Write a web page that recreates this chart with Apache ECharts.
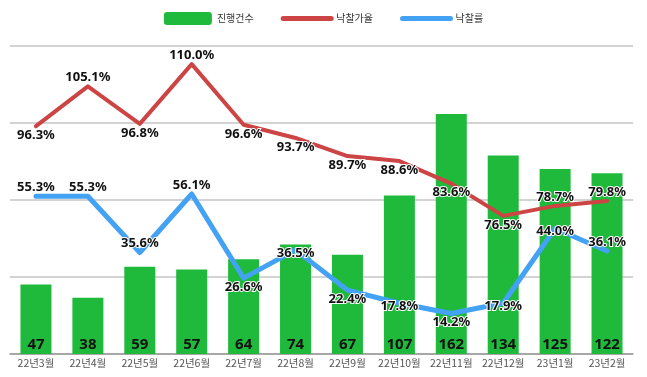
<!DOCTYPE html>
<html>
<head>
<meta charset="utf-8">
<script src="https://cdn.jsdelivr.net/npm/echarts@6/dist/echarts.min.js"></script>
<style>
  html, body { margin: 0; padding: 0; background: #fff; }
  #chart { width: 647px; height: 377px; }
</style>
</head>
<body>
<div id="chart"></div>
<script>
// 월별 데이터
const months = ['22년3월', '22년4월', '22년5월', '22년6월', '22년7월', '22년8월',
  '22년9월', '22년10월', '22년11월', '22년12월', '23년1월', '23년2월']
const counts = [47, 38, 59, 57, 64, 74, 67, 107, 162, 134, 125, 122]      // 진행건수
const bidPriceRate = [96.3, 105.1, 96.8, 110.0, 96.6, 93.7, 89.7, 88.6, 83.6, 76.5, 78.7, 79.8]  // 낙찰가율
const bidRate = [55.3, 55.3, 35.6, 56.1, 26.6, 36.5, 22.4, 17.8, 14.2, 17.9, 44.0, 36.1]        // 낙찰률

// 라벨 위치 (원본 차트 그대로)
const redLabelPos = ['bottom', 'top', 'bottom', 'top', 'bottom', 'bottom', 'bottom', 'bottom', 'bottom', 'bottom', 'top', 'top']
const blueLabelPos = ['top', 'top', 'top', 'top', 'bottom', 'inside', 'bottom', 'inside', 'bottom', 'inside', 'inside', 'top']

const GREEN = '#1fba3c'
const RED = '#cc4444'
const BLUE = '#44a2f4'

const valueLabel = {
  show: true,
  color: '#111',
  fontSize: 13,
  fontWeight: 'bold',
  fontFamily: 'Noto Sans, sans-serif',
  textBorderColor: '#fff',
  textBorderWidth: 2,
  distance: 2,
  formatter: (p) => p.value.toFixed(1) + '%'
}

const withPos = (values, positions) => values.map((v, i) => ({
  value: v,
  label: { position: positions[i], offset: positions[i] === 'inside' ? [0, 3] : [0, 0] }
}))

const chart = echarts.init(document.getElementById('chart'))
chart.setOption({
  animation: false,
  textStyle: { fontFamily: 'Noto Sans CJK KR, sans-serif' },
  legend: {
    top: 7,
    left: 'center',
    itemWidth: 48,
    itemHeight: 13,
    itemGap: 27,
    textStyle: { fontSize: 10, color: '#333' },
    data: [
      { name: '진행건수' },
      { name: '낙찰가율', itemStyle: { opacity: 0 }, lineStyle: { width: 5, cap: 'round' } },
      { name: '낙찰률', itemStyle: { opacity: 0 }, lineStyle: { width: 5, cap: 'round' } }
    ]
  },
  grid: { left: 10, right: 14, top: 46, bottom: 23 },
  xAxis: {
    type: 'category',
    data: months,
    axisTick: { show: false },
    axisLine: { lineStyle: { color: '#999', width: 1.5 } },
    axisLabel: { color: '#555', fontSize: 10.5, margin: 4, interval: 0 }
  },
  yAxis: [
    {
      type: 'value', min: 0, max: 208, interval: 52,
      axisLabel: { show: false },
      axisLine: { show: false },
      axisTick: { show: false },
      splitLine: { lineStyle: { color: '#c4c4c4', width: 1.5 } }
    },
    { type: 'value', min: 46, max: 114, show: false, splitLine: { show: false } },
    { type: 'value', min: 0, max: 108, show: false, splitLine: { show: false } }
  ],
  series: [
    {
      name: '진행건수',
      type: 'bar',
      data: counts,
      barWidth: 31,
      itemStyle: { color: GREEN },
      label: {
        show: true,
        position: 'insideBottom',
        distance: 2,
        color: '#111',
        fontSize: 15,
        fontWeight: 'bold',
        fontFamily: 'Noto Sans, sans-serif'
      }
    },
    {
      name: '낙찰가율',
      type: 'line',
      yAxisIndex: 1,
      data: withPos(bidPriceRate, redLabelPos),
      symbol: 'circle',
      symbolSize: 1,
      showSymbol: true,
      itemStyle: { color: RED },
      lineStyle: { color: RED, width: 4, cap: 'round', join: 'round' },
      label: valueLabel,
      z: 3
    },
    {
      name: '낙찰률',
      type: 'line',
      yAxisIndex: 2,
      data: withPos(bidRate, blueLabelPos),
      symbol: 'circle',
      symbolSize: 1,
      showSymbol: true,
      itemStyle: { color: BLUE },
      lineStyle: { color: BLUE, width: 5, cap: 'round', join: 'round' },
      label: valueLabel,
      z: 4
    }
  ]
})
</script>
</body>
</html>
